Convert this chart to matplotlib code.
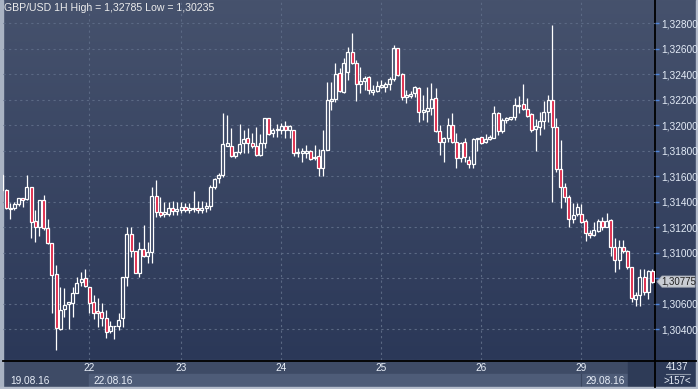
import matplotlib
matplotlib.use('Agg')
import matplotlib.pyplot as plt
import numpy as np
from matplotlib.colors import LinearSegmentedColormap
from matplotlib.patches import Rectangle, Polygon
from matplotlib.transforms import blended_transform_factory

plt.rcParams['font.family'] = ['Liberation Sans', 'DejaVu Sans']

# GBP/USD hourly candles
opens = [1.31610, 1.31493, 1.31354, 1.31349, 1.31380, 1.31427, 1.31420, 1.31514, 1.31250, 1.31205,
         1.31414, 1.31192, 1.31075, 1.30832, 1.30400, 1.30557, 1.30596, 1.30609, 1.30683, 1.30769,
         1.30805, 1.30735, 1.30612, 1.30544, 1.30539, 1.30487, 1.30387, 1.30424, 1.30429, 1.30487,
         1.30813, 1.31148, 1.31014, 1.30845, 1.31030, 1.30978, 1.31009, 1.31446, 1.31318, 1.31302,
         1.31305, 1.31349, 1.31325, 1.31340, 1.31360, 1.31335, 1.31345, 1.31355, 1.31335, 1.31350,
         1.31370, 1.31519, 1.31584, 1.31611, 1.31841, 1.31841, 1.31762, 1.31788, 1.31859, 1.31898,
         1.31859, 1.31841, 1.31767, 1.31859, 1.32055, 1.31937, 1.31963, 1.31963, 1.31997, 1.31963,
         1.31963, 1.31780, 1.31780, 1.31780, 1.31799, 1.31754, 1.31760, 1.31663, 1.31807, 1.32191,
         1.32206, 1.32408, 1.32264, 1.32421, 1.32578, 1.32486, 1.32324, 1.32348, 1.32382, 1.32264,
         1.32272, 1.32303, 1.32303, 1.32321, 1.32363, 1.32604, 1.32400, 1.32225, 1.32230, 1.32251,
         1.32295, 1.32107, 1.32113, 1.32133, 1.32212, 1.31955, 1.31872, 1.31898, 1.32002, 1.31872,
         1.31746, 1.31867, 1.31728, 1.31694, 1.31890, 1.31906, 1.31867, 1.31890, 1.31898, 1.32094,
         1.31955, 1.32042, 1.32050, 1.32063, 1.32152, 1.32167, 1.32125, 1.32089, 1.31969, 1.31990,
         1.32034, 1.32102, 1.32199, 1.31990, 1.31655, 1.31514, 1.31435, 1.31263, 1.31302, 1.31302,
         1.31253, 1.31159, 1.31140, 1.31174, 1.31253, 1.31206, 1.31258, 1.31049, 1.30944, 1.31049,
         1.31015, 1.30887, 1.30636, 1.30670, 1.30808, 1.30696, 1.30861]
highs = [1.31620, 1.31498, 1.31394, 1.31401, 1.31433, 1.31433, 1.31610, 1.31514, 1.31336, 1.31414,
         1.31454, 1.31263, 1.31075, 1.30905, 1.30735, 1.30722, 1.30612, 1.30735, 1.30813, 1.30852,
         1.30873, 1.30735, 1.30669, 1.30643, 1.30604, 1.30552, 1.30466, 1.30429, 1.30526, 1.30813,
         1.31205, 1.31205, 1.31014, 1.31088, 1.31218, 1.31088, 1.31519, 1.31571, 1.31441, 1.31401,
         1.31396, 1.31407, 1.31396, 1.31396, 1.31388, 1.31388, 1.31485, 1.31407, 1.31407, 1.31401,
         1.31532, 1.31584, 1.31624, 1.32094, 1.32081, 1.31977, 1.31794, 1.32008, 1.31963, 1.31977,
         1.31937, 1.31984, 1.31929, 1.32055, 1.32060, 1.31982, 1.32011, 1.32016, 1.32034, 1.32003,
         1.31963, 1.31820, 1.31820, 1.31846, 1.31807, 1.31846, 1.31812, 1.31963, 1.32337, 1.32337,
         1.32486, 1.32447, 1.32525, 1.32617, 1.32721, 1.32512, 1.32460, 1.32387, 1.32387, 1.32316,
         1.32348, 1.32355, 1.32342, 1.32382, 1.32630, 1.32609, 1.32408, 1.32277, 1.32269, 1.32308,
         1.32303, 1.32238, 1.32303, 1.32329, 1.32295, 1.32002, 1.31911, 1.32055, 1.32094, 1.31937,
         1.31867, 1.31898, 1.31762, 1.31898, 1.31898, 1.31911, 1.31930, 1.31924, 1.32152, 1.32102,
         1.32055, 1.32068, 1.32068, 1.32212, 1.32233, 1.32324, 1.32212, 1.32094, 1.32047, 1.32107,
         1.32193, 1.32238, 1.32785, 1.32055, 1.31885, 1.31545, 1.31454, 1.31393, 1.31389, 1.31383,
         1.31263, 1.31179, 1.31245, 1.31263, 1.31284, 1.31315, 1.31263, 1.31114, 1.31101, 1.31101,
         1.31023, 1.30887, 1.30696, 1.30871, 1.30871, 1.30866, 1.30871]
lows = [1.31480, 1.31341, 1.31263, 1.31336, 1.31367, 1.31362, 1.31414, 1.31114, 1.31088, 1.31132,
        1.31179, 1.31067, 1.30526, 1.30235, 1.30395, 1.30500, 1.30400, 1.30500, 1.30683, 1.30740,
        1.30735, 1.30526, 1.30479, 1.30421, 1.30429, 1.30335, 1.30369, 1.30324, 1.30395, 1.30421,
        1.30740, 1.30970, 1.30845, 1.30813, 1.30970, 1.30918, 1.30923, 1.31284, 1.31284, 1.31284,
        1.31290, 1.31300, 1.31300, 1.31310, 1.31320, 1.31315, 1.31320, 1.31315, 1.31310, 1.31320,
        1.31340, 1.31500, 1.31545, 1.31597, 1.31835, 1.31754, 1.31746, 1.31773, 1.31780, 1.31780,
        1.31820, 1.31760, 1.31760, 1.31820, 1.31924, 1.31906, 1.31911, 1.31932, 1.31898, 1.31898,
        1.31760, 1.31749, 1.31715, 1.31741, 1.31728, 1.31728, 1.31605, 1.31605, 1.31807, 1.32120,
        1.32180, 1.32264, 1.32256, 1.32355, 1.32478, 1.32191, 1.32251, 1.32277, 1.32243, 1.32238,
        1.32264, 1.32290, 1.32264, 1.32277, 1.32348, 1.32387, 1.32199, 1.32173, 1.32217, 1.32225,
        1.32024, 1.32042, 1.32029, 1.32081, 1.31950, 1.31767, 1.31715, 1.31867, 1.31859, 1.31668,
        1.31715, 1.31710, 1.31668, 1.31668, 1.31799, 1.31851, 1.31859, 1.31885, 1.31898, 1.31924,
        1.31937, 1.32016, 1.32042, 1.32042, 1.32094, 1.32120, 1.32068, 1.31950, 1.31801, 1.31924,
        1.31969, 1.32029, 1.31401, 1.31637, 1.31349, 1.31401, 1.31205, 1.31237, 1.31289, 1.31232,
        1.31093, 1.31114, 1.31132, 1.31166, 1.31179, 1.31200, 1.30976, 1.30853, 1.30871, 1.30997,
        1.30871, 1.30618, 1.30583, 1.30583, 1.30670, 1.30636, 1.30762]
closes = [1.31493, 1.31349, 1.31341, 1.31380, 1.31427, 1.31414, 1.31519, 1.31245, 1.31205, 1.31414,
          1.31192, 1.31075, 1.30826, 1.30408, 1.30552, 1.30591, 1.30612, 1.30683, 1.30761, 1.30795,
          1.30740, 1.30609, 1.30526, 1.30531, 1.30487, 1.30382, 1.30429, 1.30429, 1.30473, 1.30813,
          1.31148, 1.31014, 1.30845, 1.31030, 1.30978, 1.31009, 1.31446, 1.31318, 1.31297, 1.31318,
          1.31349, 1.31330, 1.31345, 1.31360, 1.31340, 1.31350, 1.31355, 1.31335, 1.31350, 1.31365,
          1.31519, 1.31576, 1.31611, 1.31851, 1.31859, 1.31762, 1.31788, 1.31851, 1.31890, 1.31859,
          1.31841, 1.31767, 1.31859, 1.32055, 1.31929, 1.31963, 1.31971, 1.31997, 1.31963, 1.31997,
          1.31780, 1.31788, 1.31799, 1.31799, 1.31736, 1.31741, 1.31663, 1.31807, 1.32199, 1.32206,
          1.32400, 1.32269, 1.32486, 1.32578, 1.32486, 1.32321, 1.32348, 1.32374, 1.32277, 1.32277,
          1.32311, 1.32316, 1.32321, 1.32363, 1.32604, 1.32395, 1.32219, 1.32238, 1.32246, 1.32303,
          1.32107, 1.32120, 1.32133, 1.32206, 1.31955, 1.31872, 1.31898, 1.32002, 1.31867, 1.31746,
          1.31859, 1.31754, 1.31694, 1.31890, 1.31898, 1.31859, 1.31890, 1.31906, 1.32094, 1.31955,
          1.32042, 1.32055, 1.32063, 1.32159, 1.32159, 1.32125, 1.32076, 1.31963, 1.31995, 1.32034,
          1.32102, 1.32199, 1.31990, 1.31655, 1.31519, 1.31435, 1.31263, 1.31297, 1.31357, 1.31245,
          1.31153, 1.31140, 1.31179, 1.31253, 1.31206, 1.31253, 1.31049, 1.30944, 1.31049, 1.31017,
          1.30887, 1.30644, 1.30670, 1.30808, 1.30696, 1.30861, 1.30775]

day_labels = ['22', '23', '24', '25', '26', '29']
day_starts = [22, 44, 68, 92, 116, 140]   # candle number where each day begins
price_ticks = [1.304, 1.306, 1.308, 1.310, 1.312, 1.314, 1.316, 1.318,
               1.320, 1.322, 1.324, 1.326, 1.328]
last_price = 1.30775
title = 'GBP/USD 1H High = 1,32785 Low = 1,30235'

W, H = 698, 389
fig = plt.figure(figsize=(W / 100, H / 100), dpi=100)

# background layer in pixel coordinates
bg = fig.add_axes([0, 0, 1, 1])
bg.set_xlim(0, W)
bg.set_ylim(H, 0)
bg.axis('off')
grad_cmap = LinearSegmentedColormap.from_list('bgc', ['#46526d', '#2b3858'])
bg.imshow(np.linspace(0, 1, 256).reshape(-1, 1), cmap=grad_cmap, aspect='auto',
          extent=(0, W, 360, 0), zorder=0)

# bottom date band
bg.add_patch(Rectangle((3, 360), 652, 27, color='#3e4b66', zorder=1))
bg.add_patch(Rectangle((89, 374), 539, 13, color='#4e5c78', zorder=1))
bg.add_patch(Rectangle((628, 360), 27, 27, color='#2e3b57', zorder=1))
bg.plot([581, 581], [374, 387], color='#3a465f', lw=0.8, zorder=2)
bg.add_patch(Rectangle((655, 360), 43, 29, color='#2d3a58', zorder=1))
# frame
bg.add_patch(Rectangle((0, 0), 3, H, color='#a9b3c3', zorder=3))
bg.add_patch(Rectangle((0, 387), W, 2, color='#b4bccb', zorder=3))
bg.add_patch(Rectangle((696, 0), 2, H, color='#b4bccb', zorder=3))
bg.plot([655, 655], [0, 387], color='black', lw=1.3, zorder=4)
bg.plot([3, 696], [360.5, 360.5], color='black', lw=1.3, zorder=4)

tc = '#e8eef8'
fs = 7.3
bg.text(10, 381, '19.08.16', color=tc, fontsize=fs, va='center', ha='left', zorder=5)
bg.text(93, 381, '22.08.16', color=tc, fontsize=fs, va='center', ha='left', zorder=5)
bg.text(585, 381, '29.08.16', color=tc, fontsize=fs, va='center', ha='left', zorder=5)
bg.text(677, 367.5, '4137', color=tc, fontsize=fs, va='center', ha='center', zorder=5)
bg.plot([666, 690], [374, 374], color='#8d97a8', lw=0.8, zorder=5)
bg.text(677, 381.5, '>157<', color=tc, fontsize=7.0, va='center', ha='center', zorder=5)
bg.text(4, 8, title, color='#ececec', fontsize=7.6, va='center', ha='left', zorder=5)

# price panel
ax = fig.add_axes([3 / W, 29 / H, 652 / W, 360 / H])
ax.set_facecolor('none')
ax.set_xlim(1.28, 157.63)
ax.set_ylim(1.301603, 1.329827)

grid_kw = dict(color='#5b6984', lw=0.8, ls=(0, (2, 3)), zorder=1)
for p in price_ticks:
    ax.axhline(p, **grid_kw)
for d in day_starts:
    ax.axvline(d - 0.1, **grid_kw)

x = np.arange(1, len(opens) + 1)
o = np.array(opens)
c = np.array(closes)
hi = np.array(highs)
lo = np.array(lows)
top = np.maximum(o, c)
bot = np.minimum(o, c)
up = c >= o

ax.vlines(x, top, hi, color='white', lw=0.9, zorder=2)
ax.vlines(x, lo, bot, color='white', lw=0.9, zorder=2)
body_h = np.maximum(top - bot, 0.00003)
face = [(0, 0, 0, 0) if u else '#dc1c3e' for u in up]
ax.bar(x, body_h, bottom=bot, width=0.72, color=face,
       edgecolor='white', linewidth=0.9, zorder=3)

ax.yaxis.tick_right()
ax.set_yticks(price_ticks)
# the 1,30800 label sits under the last-price marker
ax.set_yticklabels(['' if abs(p - 1.308) < 1e-9 else f'{p:.5f}'.replace('.', ',')
                    for p in price_ticks])
ax.tick_params(axis='y', length=3, width=1, color='#4f86dc', labelcolor='#e4ecf7',
               labelsize=fs, pad=1.5)
ax.set_xticks(day_starts)
ax.set_xticklabels(day_labels)
ax.tick_params(axis='x', length=0, labelcolor=tc, labelsize=fs, pad=2.5)
for s in ax.spines.values():
    s.set_visible(False)

# last price marker
tr = blended_transform_factory(ax.transAxes, ax.transData)
hh = 5.6 * 0.0000784
px = 1 / 652
ax.add_patch(Polygon([(1 + 2 * px, last_price), (1 + 7 * px, last_price + hh),
                      (1 + 40 * px, last_price + hh), (1 + 40 * px, last_price - hh),
                      (1 + 7 * px, last_price - hh)], closed=True, transform=tr,
                     fc='#c9cdd4', ec='#a0a6b0', lw=0.6, clip_on=False, zorder=6))
ax.text(1 + 23.5 * px, last_price, '1,30775', transform=tr, color='#202020',
        fontsize=7.0, ha='center', va='center', clip_on=False, zorder=7)

fig.savefig('out.png', dpi=100)
